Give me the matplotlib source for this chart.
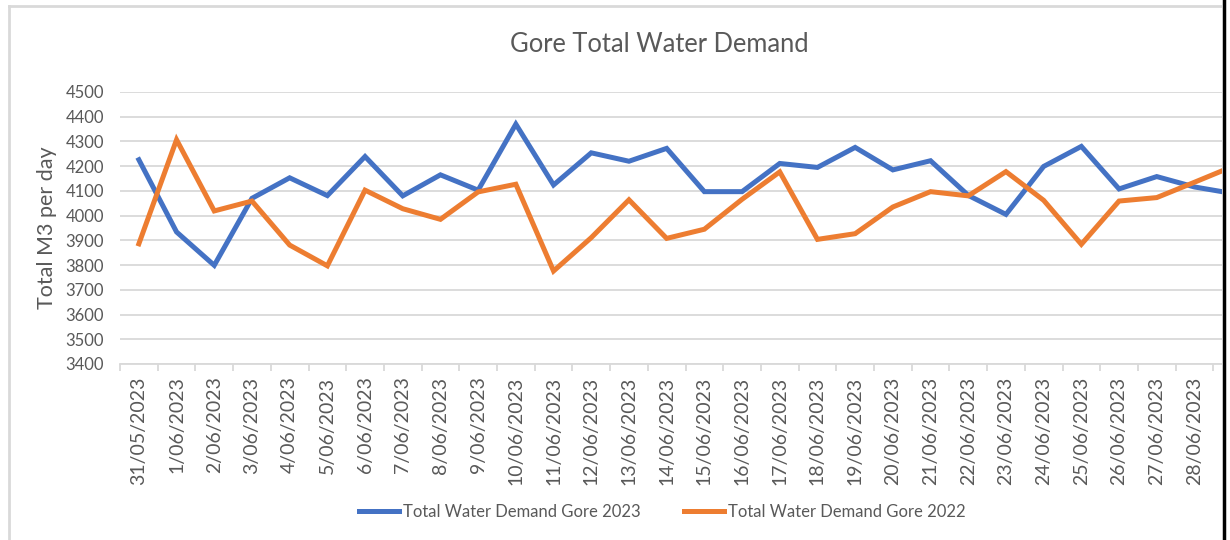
import matplotlib
matplotlib.use('Agg')
import matplotlib.pyplot as plt
from matplotlib.lines import Line2D
from matplotlib.patches import Rectangle

plt.rcParams['font.family'] = ['Lato', 'DejaVu Sans']

# categories (the chart is cropped at the right, 29/06 sits past the edge)
dates = ['31/05/2023', '1/06/2023', '2/06/2023', '3/06/2023', '4/06/2023',
         '5/06/2023', '6/06/2023', '7/06/2023', '8/06/2023', '9/06/2023',
         '10/06/2023', '11/06/2023', '12/06/2023', '13/06/2023', '14/06/2023',
         '15/06/2023', '16/06/2023', '17/06/2023', '18/06/2023', '19/06/2023',
         '20/06/2023', '21/06/2023', '22/06/2023', '23/06/2023', '24/06/2023',
         '25/06/2023', '26/06/2023', '27/06/2023', '28/06/2023', '29/06/2023']

demand_2023 = [4226, 3934, 3799, 4070, 4153, 4081, 4239, 4080, 4165, 4103,
               4370, 4124, 4254, 4220, 4272, 4097, 4097, 4211, 4195, 4276,
               4185, 4222, 4082, 4005, 4199, 4280, 4108, 4158, 4116, 4090]

demand_2022 = [3886, 4307, 4019, 4059, 3881, 3797, 4103, 4028, 3985, 4096,
               4127, 3776, 3911, 4064, 3908, 3945, 4066, 4177, 3904, 3927,
               4035, 4097, 4080, 4178, 4062, 3884, 4059, 4073, 4135, 4198]

yticks = list(range(3400, 4600, 100))

grey_text = '#595959'
grid_col = '#d9d9d9'

fig = plt.figure(figsize=(12.3, 5.4), dpi=100)
W, H = 1230, 540

# axes: left edge at 120px, 37.7px per category, 4500 at y=92, 3400 at y=364
ax = fig.add_axes([120 / W, 1 - 364 / H, len(dates) * 37.7 / W, (364 - 92) / H])

x = list(range(len(dates)))
ax.plot(x, demand_2023, color='#4472C4', lw=3.6, solid_joinstyle='miter',
        label='Total Water Demand Gore 2023', clip_on=False)
ax.plot(x, demand_2022, color='#ED7D31', lw=3.6, solid_joinstyle='miter',
        label='Total Water Demand Gore 2022', clip_on=False)

ax.set_xlim(-0.5, len(dates) - 0.5)
ax.set_ylim(3400, 4500)
ax.set_yticks(yticks)
ax.set_yticklabels([str(v) for v in yticks], fontsize=12, color=grey_text)
ax.yaxis.grid(True, color=grid_col, lw=1.3)
ax.set_axisbelow(True)
ax.tick_params(axis='y', length=0, pad=11.5)

# last category is hidden behind the cropped edge, so its label is not shown
ax.set_xticks(x[:-1])
ax.set_xticklabels(dates[:-1], rotation=90, fontsize=14, color=grey_text)
ax.set_xticks([i - 0.5 for i in range(len(dates) + 1)], minor=True)
ax.tick_params(axis='x', which='major', length=0, pad=9)
ax.tick_params(axis='x', which='minor', length=5, color=grid_col, width=1.3)

for side in ['top', 'right', 'left']:
    ax.spines[side].set_visible(False)
ax.spines['bottom'].set_color(grid_col)
ax.spines['bottom'].set_linewidth(1.3)

ax.set_ylabel('Total M3 per day', fontsize=15.5, color=grey_text, labelpad=6)

fig.text(659 / W, 1 - 45 / H, 'Gore Total Water Demand', ha='center', va='center',
         fontsize=18.4, color=grey_text)

leg = fig.legend(loc='center', bbox_to_anchor=(662 / W, 1 - 512 / H), ncol=2,
                 frameon=False, fontsize=12, handlelength=2.4, handletextpad=0.25,
                 columnspacing=2.6, labelcolor=grey_text)

# chart border (light grey) and the cropped right edge
fig.add_artist(Line2D([9 / W, 9 / W], [0, 1 - 6 / H], color=grid_col, lw=2))
fig.add_artist(Line2D([9 / W, 1222 / W], [1 - 6 / H, 1 - 6 / H], color=grid_col, lw=2))
fig.add_artist(Rectangle((1222 / W, 0), 8 / W, 1, transform=fig.transFigure,
                         facecolor='white', edgecolor='none', zorder=10))
fig.add_artist(Line2D([1223.5 / W, 1223.5 / W], [0, 1], color='black', lw=2.5, zorder=11))

fig.savefig('out.png', dpi=100)
